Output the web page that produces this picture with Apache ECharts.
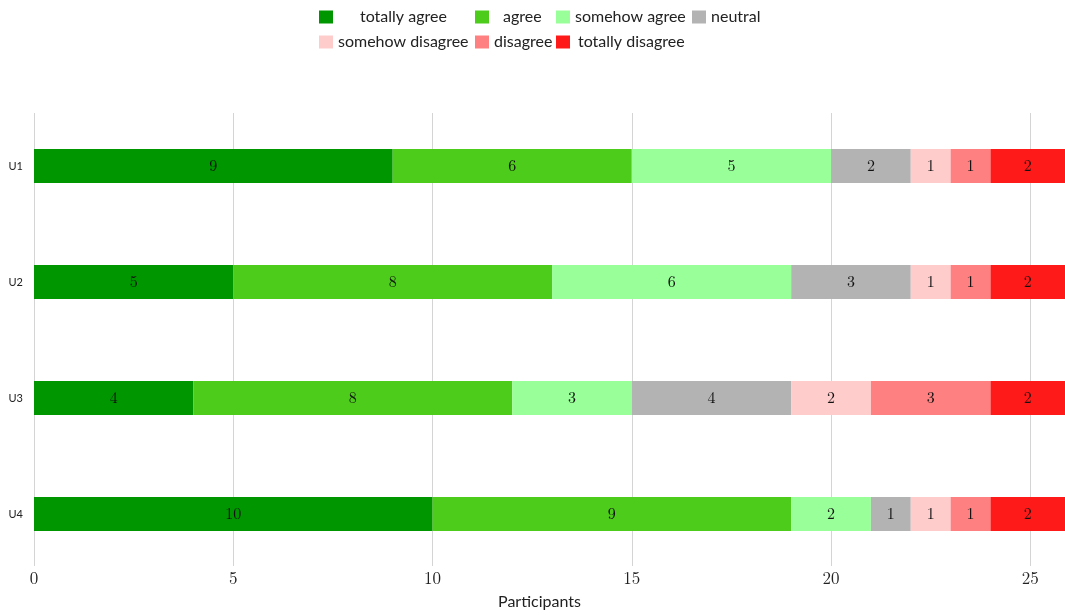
<!DOCTYPE html>
<html>
<head>
<meta charset="utf-8">
<script src="https://cdn.jsdelivr.net/npm/echarts@6/dist/echarts.min.js"></script>
<style>html,body{margin:0;padding:0;background:#fff;}#c{width:1065px;height:615px;}</style>
</head>
<body>
<div id="c"></div>
<script>
const categories = ['U1', 'U2', 'U3', 'U4'];
const levels = ['totally agree', 'agree', 'somehow agree', 'neutral', 'somehow disagree', 'disagree', 'totally disagree'];
const totallyAgree = [9, 5, 4, 10];
const agree = [6, 8, 8, 9];
const somehowAgree = [5, 6, 3, 2];
const neutral = [2, 3, 4, 1];
const somehowDisagree = [1, 1, 2, 1];
const disagree = [1, 1, 3, 1];
const totallyDisagree = [2, 2, 2, 2];
const seriesValues = [totallyAgree, agree, somehowAgree, neutral, somehowDisagree, disagree, totallyDisagree];
const colors = ['#009600', '#4dcc1c', '#99ff99', '#b3b3b3', '#ffcccc', '#ff8080', '#ff1a1a'];
const xTicks = { min: 0, max: 25.87, interval: 5 };

const serif = '"Latin Modern Roman", "Liberation Serif", "DejaVu Serif", serif';
const sans = 'Lato, "Noto Sans", sans-serif';

// legend placements: [left, top, text left padding]
const legendPos = [
  [319, 9, 22], [475, 9, 9], [556, 9, 0], [692, 9, 0],
  [319, 34, 0], [475, 34, 0], [556, 34, 3]
];

const chart = echarts.init(document.getElementById('c'), null, { renderer: 'canvas' });

const legends = levels.map((name, i) => ({
  data: [name],
  left: legendPos[i][0],
  top: legendPos[i][1],
  padding: 0,
  itemWidth: 14,
  itemHeight: 13,
  icon: 'rect',
  selectedMode: false,
  textStyle: { fontFamily: sans, fontSize: 16, color: '#222', padding: [0, 0, 0, legendPos[i][2]] }
}));

const series = levels.map((name, i) => ({
  name: name,
  type: 'bar',
  stack: 'total',
  xAxisIndex: 0,
  yAxisIndex: 0,
  barWidth: 34,
  itemStyle: { color: colors[i] },
  label: {
    show: true,
    position: 'inside',
    color: '#111',
    fontFamily: serif,
    fontSize: 16
  },
  emphasis: { disabled: true },
  data: seriesValues[i]
}));

chart.setOption({
  animation: false,
  color: colors,
  legend: legends,
  grid: [
    { left: 34, right: 0, top: 108, height: 464 },
    { left: 34, right: 0, top: 113, height: 453 }
  ],
  xAxis: [
    {
      type: 'value', gridIndex: 0, min: xTicks.min, max: xTicks.max, interval: xTicks.interval,
      axisLine: { show: false }, axisTick: { show: false }, axisLabel: { show: false }, splitLine: { show: false }
    },
    {
      type: 'value', gridIndex: 1, min: xTicks.min, max: xTicks.max, interval: xTicks.interval,
      name: 'Participants', nameLocation: 'middle', nameGap: 28,
      nameTextStyle: { fontFamily: sans, fontSize: 16, color: '#222', padding: [0, 20, 0, 0] },
      axisLine: { show: false }, axisTick: { show: false },
      axisLabel: { fontFamily: serif, fontSize: 17, color: '#222', margin: 4, showMaxLabel: false },
      splitLine: { show: true, lineStyle: { color: '#d4d4d4', width: 1 } }
    }
  ],
  yAxis: [
    {
      type: 'category', gridIndex: 0, data: categories, inverse: true,
      axisLine: { show: false }, axisTick: { show: false },
      axisLabel: { fontFamily: sans, fontSize: 11, color: '#222', margin: 11 }
    },
    { type: 'value', gridIndex: 1, show: false, min: 0, max: 1 }
  ],
  series: series
});
</script>
</body>
</html>
